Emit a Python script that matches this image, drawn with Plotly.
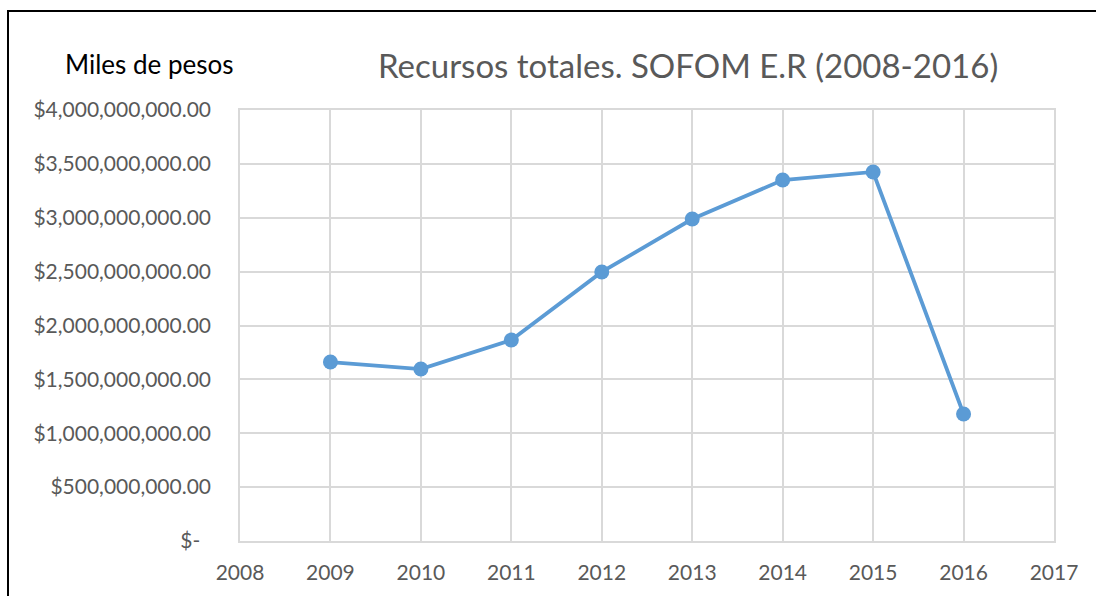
import plotly.graph_objects as go

years = [2009, 2010, 2011, 2012, 2013, 2014, 2015, 2016]
recursos = [1.661e9, 1.596e9, 1.865e9, 2.497e9, 2.988e9, 3.350e9, 3.425e9, 1.179e9]
y_tickvals = [0, 5e8, 1e9, 1.5e9, 2e9, 2.5e9, 3e9, 3.5e9, 4e9]
y_ticktext = ["$-\u00a0\u00a0", "$500,000,000.00", "$1,000,000,000.00", "$1,500,000,000.00",
              "$2,000,000,000.00", "$2,500,000,000.00", "$3,000,000,000.00",
              "$3,500,000,000.00", "$4,000,000,000.00"]
x_tickvals = list(range(2008, 2018))

W, H = 1096, 596
L, R, T, B = 240, 1054, 110, 541
pw, ph = R - L, B - T

def px(x):
    return (x - L) / pw

def py(y):
    return (B - y) / ph

fig = go.Figure()
fig.add_trace(go.Scatter(
    x=years, y=recursos, mode="lines+markers",
    line=dict(color="#5b9bd5", width=3.8),
    marker=dict(color="#5b9bd5", size=15),
    showlegend=False, hoverinfo="x+y",
))

font_family = "Lato, 'Open Sans', sans-serif"
fig.update_layout(
    width=W, height=H,
    margin=dict(l=L, r=W - R, t=T, b=H - B),
    paper_bgcolor="white", plot_bgcolor="white",
    font=dict(family=font_family, color="#595959", size=21),
    xaxis=dict(range=[2008, 2017], tickvals=x_tickvals, ticktext=[str(v) for v in x_tickvals],
               showgrid=True, gridcolor="#d9d9d9", gridwidth=1.5, zeroline=False,
               showline=True, linecolor="#d9d9d9", linewidth=1.5, mirror=True,
               ticks="", tickfont=dict(size=21, color="#595959"), ticklabelstandoff=12),
    yaxis=dict(range=[0, 4e9], tickvals=y_tickvals, ticktext=y_ticktext,
               showgrid=True, gridcolor="#d9d9d9", gridwidth=1.5, zeroline=False,
               showline=True, linecolor="#d9d9d9", linewidth=1.5, mirror=True,
               ticks="", tickfont=dict(size=21, color="#595959"), ticklabelstandoff=23),
    annotations=[
        dict(text="Recursos totales. SOFOM E.R (2008-2016)", x=px(688), y=py(65),
             xref="paper", yref="paper", showarrow=False, xanchor="center", yanchor="middle",
             font=dict(size=33, color="#595959", family=font_family)),
        dict(text="Miles de pesos", x=px(149), y=py(64),
             xref="paper", yref="paper", showarrow=False, xanchor="center", yanchor="middle",
             font=dict(size=26, color="#000000", family=font_family)),
    ],
    shapes=[
        dict(type="line", xref="paper", yref="paper", x0=px(7), x1=px(1200), y0=py(11), y1=py(11),
             line=dict(color="black", width=2), layer="above"),
        dict(type="line", xref="paper", yref="paper", x0=px(8), x1=px(8), y0=py(10), y1=py(700),
             line=dict(color="black", width=2), layer="above"),
    ],
)

fig.write_html("out.html", config={"displayModeBar": False},
               post_script=("document.documentElement.style.overflow='hidden';"
                            "document.body.style.margin='0px';"
                            "document.body.style.overflow='hidden';"))
